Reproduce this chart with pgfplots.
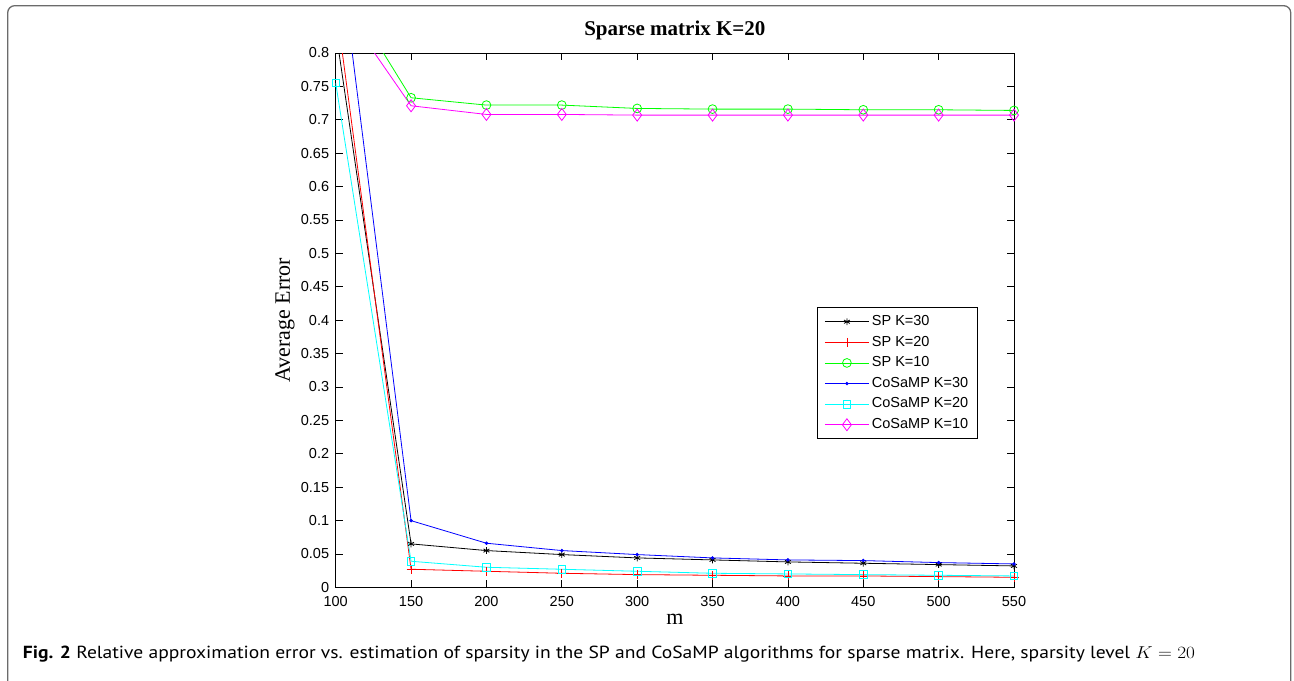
\documentclass[border=0pt]{standalone}
\usepackage{fontspec}
\usepackage{graphicx}
\usepackage{pgfplots}
\pgfplotsset{compat=1.18}
\setmainfont{Liberation Serif}
\newfontfamily\arial{Liberation Sans}
\newfontfamily\capfont{PT Sans}
\definecolor{mgreen}{rgb}{0,1,0}
\definecolor{mcyan}{rgb}{0,1,1}
\definecolor{mmag}{rgb}{1,0,1}
\definecolor{framegray}{rgb}{0.42,0.42,0.42}
\begin{document}
\begin{tikzpicture}
\path[use as bounding box] (0,0) rectangle (1294bp,681bp);
\draw[framegray, line width=1.3bp, rounded corners=7bp] (7.7bp,-5bp) -- (7.7bp,675.3bp) -- (1290.7bp,675.3bp) -- (1290.7bp,-5bp);
\begin{axis}[
  at={(335.7bp,93.7bp)}, anchor=south west,
  scale only axis, width=678.3bp, height=534.3bp,
  xmin=100, xmax=550, ymin=0, ymax=0.8,
  xtick={100,150,200,250,300,350,400,450,500,550},
  ytick={0,0.05,0.1,0.15,0.2,0.25,0.3,0.35,0.4,0.45,0.5,0.55,0.6,0.65,0.7,0.75,0.8},
  yticklabels={0,0.05,0.1,0.15,0.2,0.25,0.3,0.35,0.4,0.45,0.5,0.55,0.6,0.65,0.7,0.75,0.8},
  xticklabels={100,150,200,250,300,350,400,450,500,550},
  tick pos=both, tick align=inside,
  major tick length=7bp,
  axis line style={line width=1bp},
  every tick/.style={black, line width=0.8bp},
  ticklabel style={font=\arial\fontsize{14.5bp}{17bp}\selectfont},
  yticklabel style={inner sep=0pt, anchor=east, xshift=-6.4bp},
  xticklabel style={inner sep=0pt, anchor=base, yshift=-19.4bp},
  title={\textbf{Sparse matrix K=20}},
  title style={font=\fontsize{21bp}{25bp}\selectfont, at={(axis description cs:0.5,1)}, anchor=base, yshift=12bp, inner sep=0pt},
  xlabel={m},
  xlabel style={font=\fontsize{22bp}{26bp}\selectfont, at={(axis description cs:0.5,0)}, anchor=base, yshift=-37.7bp, inner sep=0pt},
  ylabel={Average Error},
  ylabel style={font=\fontsize{22bp}{26bp}\selectfont, at={(axis description cs:-0.0674,0.5)}, anchor=base, inner sep=0pt},
  legend style={at={(axis description cs:0.710,0.524)}, anchor=north west,
    draw=black, line width=0.8bp, inner xsep=6.8bp, inner ysep=3.7bp,
    font=\arial\fontsize{14.5bp}{17bp}\selectfont,
    cells={anchor=west}, row sep=0pt,
    nodes={inner xsep=2.6bp, inner ysep=3.55bp, text height=10.5bp, text depth=3bp}},
  legend image code/.code={\draw[mark repeat=2,mark phase=2] plot coordinates {(0bp,0bp) (22bp,0bp) (44bp,0bp)};},
  every axis plot/.append style={line width=0.8bp, mark options={solid}},
]
\addplot[black, mark=asterisk, mark size=3.4bp] coordinates {
(100,0.834) (150,0.065) (200,0.055) (250,0.049) (300,0.044) (350,0.041) (400,0.038) (450,0.036) (500,0.034) (550,0.032)};
\addlegendentry{SP K=30}
\addplot[red, mark=+, mark size=4.5bp] coordinates {
(100,0.875) (150,0.027) (200,0.024) (250,0.021) (300,0.019) (350,0.018) (400,0.017) (450,0.017) (500,0.016) (550,0.015)};
\addlegendentry{SP K=20}
\addplot[mgreen, mark=o, mark size=4.4bp] coordinates {
(100,0.916) (150,0.733) (200,0.722) (250,0.722) (300,0.717) (350,0.716) (400,0.716) (450,0.715) (500,0.715) (550,0.714)};
\addlegendentry{SP K=10}
\addplot[blue, mark=*, mark size=1.3bp] coordinates {
(100,0.997) (150,0.0998) (200,0.066) (250,0.055) (300,0.049) (350,0.044) (400,0.041) (450,0.040) (500,0.037) (550,0.035)};
\addlegendentry{CoSaMP K=30}
\addplot[mcyan, mark=square, mark size=3.8bp] coordinates {
(100,0.755) (150,0.039) (200,0.030) (250,0.027) (300,0.024) (350,0.021) (400,0.020) (450,0.019) (500,0.018) (550,0.017)};
\addlegendentry{CoSaMP K=20}
\addplot[mmag, mark=diamond, mark size=6bp] coordinates {
(100,0.884) (150,0.721) (200,0.708) (250,0.708) (300,0.707) (350,0.707) (400,0.707) (450,0.707) (500,0.707) (550,0.707)};
\addlegendentry{CoSaMP K=10}
\end{axis}
\node[anchor=base west, inner sep=0pt] at (22.7bp,22.5bp) {\resizebox{1172bp}{\height}{\capfont\fontsize{17.5bp}{20bp}\selectfont\textbf{Fig. 2} Relative approximation error vs. estimation of sparsity in the SP and CoSaMP algorithms for sparse matrix. Here, sparsity level $K=20$}};
\end{tikzpicture}
\end{document}
